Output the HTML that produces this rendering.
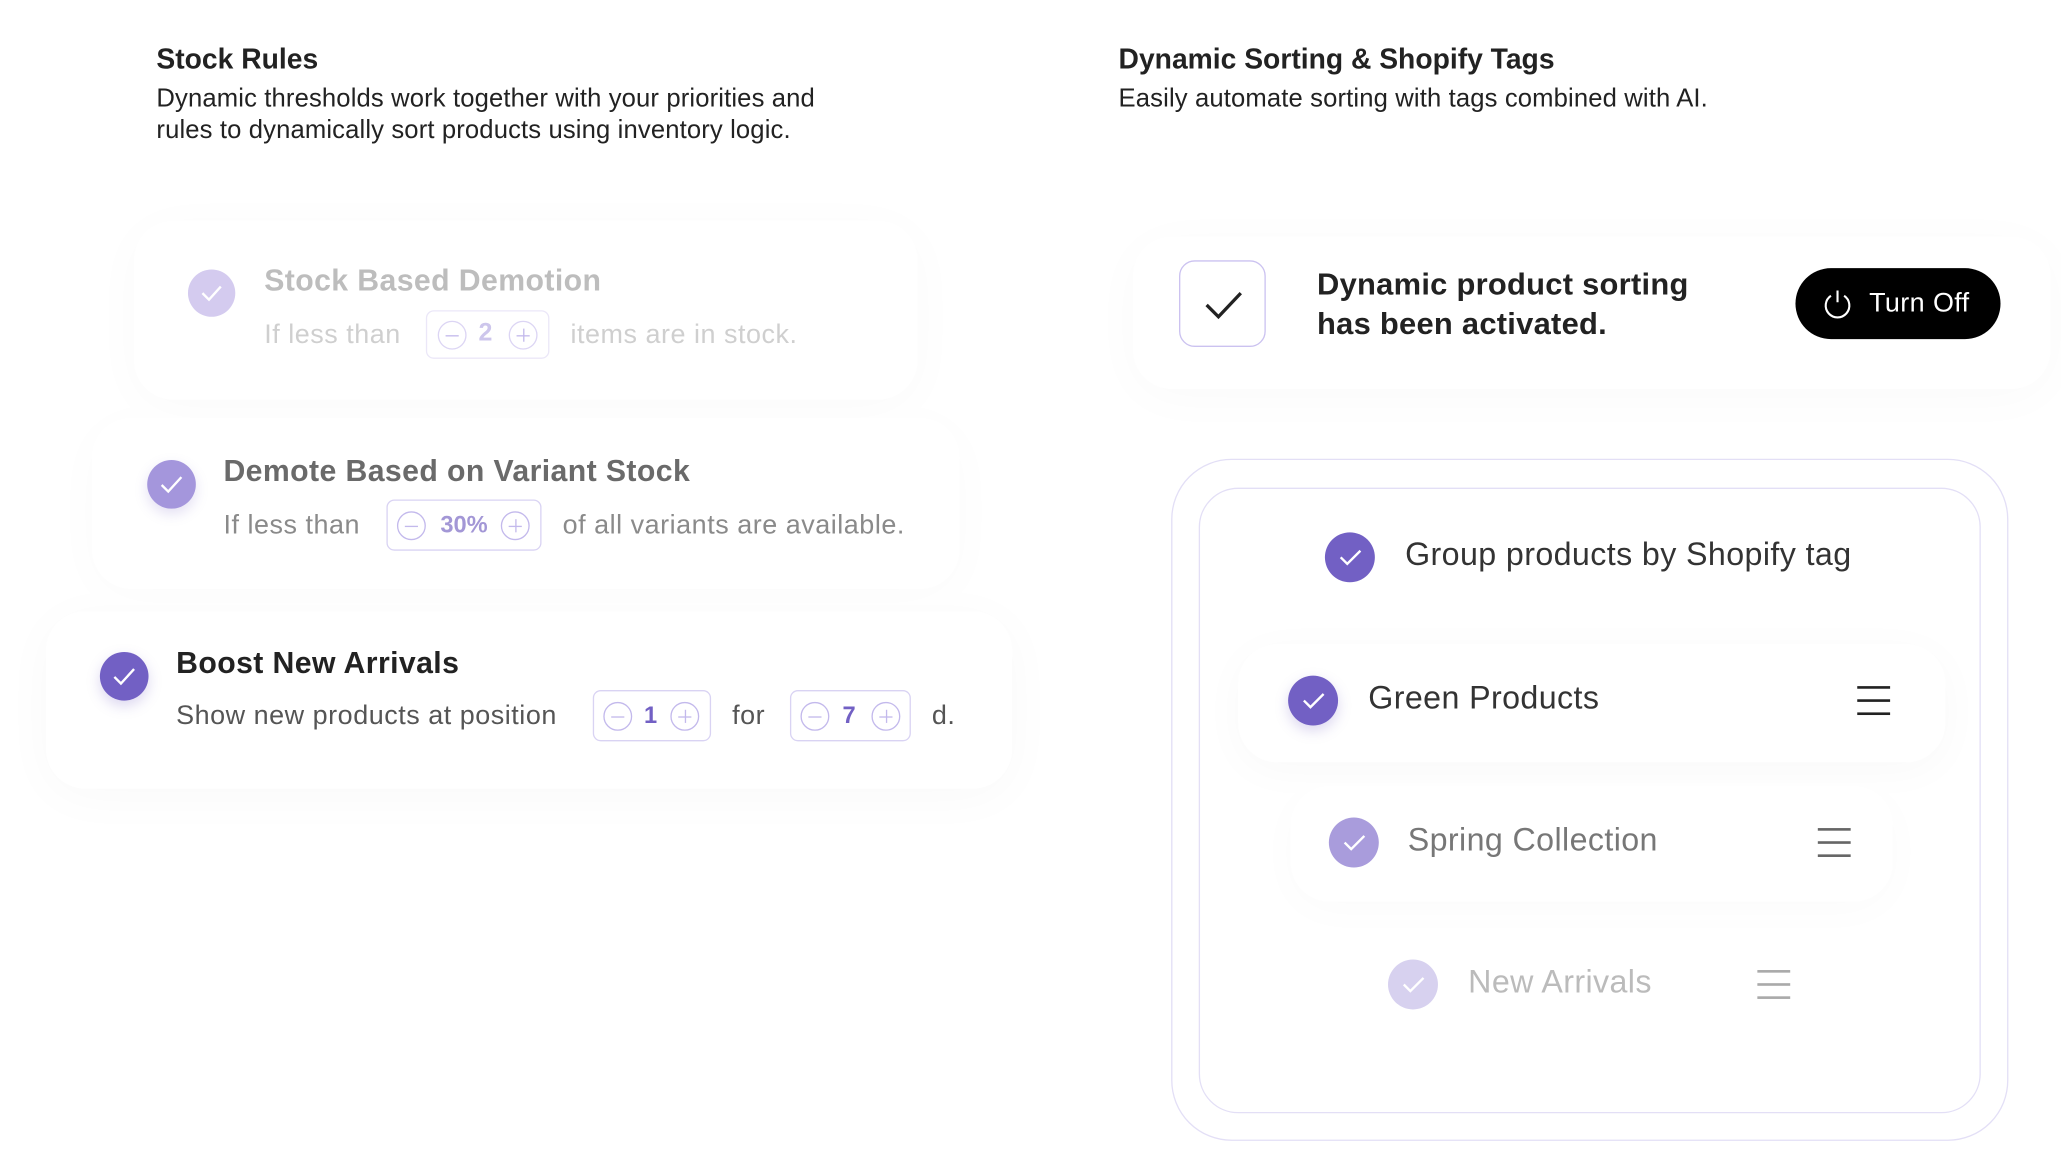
<!DOCTYPE html>
<html><head><meta charset="utf-8"><style>
html,body{margin:0;padding:0;background:#fff;}
body{width:2061px;height:1154px;overflow:hidden;position:relative;font-family:"Liberation Sans",sans-serif;}
#s{position:absolute;left:0;top:0;width:1568px;height:878px;transform:scale(1.3144);transform-origin:0 0;}
.a{position:absolute;white-space:nowrap;}
.card{position:absolute;border-radius:30px;background:#fff;}
.chk{position:absolute;border-radius:50%;}
.chk svg{position:absolute;left:0;top:0;}
.box{position:absolute;border:1.5px solid #d9d3f3;border-radius:6px;box-sizing:border-box;}
.pm{position:absolute;border-radius:50%;border:1.3px solid #c3b9ec;box-sizing:border-box;width:22px;height:22px;}
.pm:before{content:"";position:absolute;left:5px;right:5px;top:9.5px;height:1.3px;background:#c3b9ec;}
.pl:after{content:"";position:absolute;top:5px;bottom:5px;left:9.5px;width:1.3px;background:#c3b9ec;}
.hb{position:absolute;width:25px;height:22px;}
.hb i{position:absolute;left:0;right:0;height:1.6px;}
.t{font-size:20.5px;letter-spacing:0.4px;}
.h{font-size:23px;font-weight:bold;letter-spacing:0.3px;}
</style></head><body><div id="s">

<div class="a" style="left:119px;top:33px;font-size:21.5px;font-weight:bold;color:#222;">Stock Rules</div>
<div class="a" style="left:119px;top:63px;font-size:19.5px;line-height:24px;color:#222;letter-spacing:0.1px;">Dynamic thresholds work together with your priorities and<br>rules to dynamically sort products using inventory logic.</div>
<div class="a" style="left:851px;top:33px;font-size:21.5px;font-weight:bold;color:#222;">Dynamic Sorting &amp; Shopify Tags</div>
<div class="a" style="left:851px;top:63px;font-size:19.5px;line-height:24px;color:#222;letter-spacing:0.1px;">Easily automate sorting with tags combined with AI.</div>

<!-- card 1 -->
<div class="card" style="left:102px;top:168px;width:596px;height:136px;box-shadow:0 6px 40px rgba(0,0,0,0.022);"></div>
<div class="chk" style="left:143px;top:205px;width:36px;height:36px;background:#d4cbef;"><svg width="36" height="36"><path d="M11 18 L16 23 L25 13" stroke="#fff" stroke-width="1.8" fill="none"/></svg></div>
<div class="a h" style="left:201px;top:200px;color:#bdbdbd;">Stock Based Demotion</div>
<div class="a t" style="left:201px;top:243px;color:#cfcfcf;">If less than</div>
<div class="box" style="left:324px;top:236px;width:94px;height:37px;border-color:#ebe7f8;"></div>
<div class="pm" style="left:333px;top:244px;border-color:#dcd5f4;"></div>
<div class="a" style="left:364px;top:243px;font-size:19px;font-weight:bold;color:#cdc6ec;">2</div>
<div class="pm pl" style="left:387px;top:244px;border-color:#dcd5f4;"></div>
<div class="a t" style="left:434px;top:243px;color:#cfcfcf;">items are in stock.</div>

<!-- card 2 -->
<div class="card" style="left:70px;top:318px;width:660px;height:130px;box-shadow:0 6px 40px rgba(0,0,0,0.02);"></div>
<div class="chk" style="left:112px;top:350px;width:37px;height:37px;background:#a496dc;box-shadow:0 4px 10px rgba(114,96,196,0.2);"><svg width="37" height="37"><path d="M11 19 L16 24 L26 13" stroke="#fff" stroke-width="1.8" fill="none"/></svg></div>
<div class="a h" style="left:170px;top:345px;color:#6a6a6a;">Demote Based on Variant Stock</div>
<div class="a t" style="left:170px;top:388px;color:#8a8a8a;">If less than</div>
<div class="box" style="left:294px;top:380px;width:118px;height:39px;"></div>
<div class="pm" style="left:302px;top:389px;"></div>
<div class="a" style="left:335px;top:389px;font-size:18px;font-weight:bold;color:#a397d6;">30%</div>
<div class="pm pl" style="left:381px;top:389px;"></div>
<div class="a t" style="left:428px;top:388px;color:#8a8a8a;">of all variants are available.</div>

<!-- card 3 -->
<div class="card" style="left:35px;top:465px;width:735px;height:135px;box-shadow:0 6px 40px rgba(0,0,0,0.028);"></div>
<div class="chk" style="left:76px;top:496px;width:37px;height:37px;background:#7260c4;box-shadow:0 4px 10px rgba(114,96,196,0.25);"><svg width="37" height="37"><path d="M11 19 L16 24 L26 13" stroke="#fff" stroke-width="1.8" fill="none"/></svg></div>
<div class="a h" style="left:134px;top:491px;color:#222;">Boost New Arrivals</div>
<div class="a t" style="left:134px;top:533px;color:#555;">Show new products at position</div>
<div class="box" style="left:451px;top:525px;width:90px;height:39px;"></div>
<div class="pm" style="left:459px;top:534px;"></div>
<div class="a" style="left:490px;top:534px;font-size:18px;font-weight:bold;color:#7260c4;">1</div>
<div class="pm pl" style="left:510px;top:534px;"></div>
<div class="a t" style="left:557px;top:533px;color:#555;">for</div>
<div class="box" style="left:601px;top:525px;width:92px;height:39px;"></div>
<div class="pm" style="left:609px;top:534px;"></div>
<div class="a" style="left:641px;top:534px;font-size:18px;font-weight:bold;color:#7260c4;">7</div>
<div class="pm pl" style="left:663px;top:534px;"></div>
<div class="a t" style="left:709px;top:533px;color:#555;">d.</div>

<!-- right top card -->
<div class="card" style="left:862px;top:180px;width:698px;height:116px;box-shadow:0 6px 40px rgba(0,0,0,0.022);"></div>
<div class="a" style="left:897px;top:198px;width:66px;height:66px;box-sizing:border-box;border:1.5px solid #cbc2f0;border-radius:12px;background:#fff;"><svg width="64" height="64"><path d="M20 33 L29 42 L46 24" stroke="#222" stroke-width="2.5" fill="none"/></svg></div>
<div class="a" style="left:1002px;top:201px;font-size:23.5px;line-height:30px;font-weight:bold;color:#222;letter-spacing:0.2px;">Dynamic product sorting<br>has been activated.</div>
<div class="a" style="left:1366px;top:204px;width:156px;height:54px;border-radius:27px;background:#000;"></div>
<svg class="a" style="left:1385px;top:218px;" width="26" height="26"><path d="M8 7 A9 9 0 1 0 18 7" stroke="#fff" stroke-width="1.6" fill="none"/><line x1="13" y1="3" x2="13" y2="12" stroke="#fff" stroke-width="1.6"/></svg>
<div class="a" style="left:1422px;top:219px;font-size:20.5px;color:#fff;letter-spacing:0.3px;">Turn Off</div>

<!-- right box -->
<div class="a" style="left:891px;top:349px;width:637px;height:519px;box-sizing:border-box;border:1.5px solid #e3dff6;border-radius:46px;"></div>
<div class="a" style="left:912px;top:371px;width:595px;height:476px;box-sizing:border-box;border:1.5px solid #e3dff6;border-radius:30px;"></div>

<div class="chk" style="left:1008px;top:405px;width:38px;height:38px;background:#7260c4;"><svg width="38" height="38"><path d="M12 19 L17 24 L27 14" stroke="#fff" stroke-width="1.8" fill="none"/></svg></div>
<div class="a" style="left:1069px;top:409px;font-size:24.5px;color:#333;letter-spacing:0.3px;">Group products by Shopify tag</div>

<div class="card" style="left:942px;top:490px;width:538px;height:90px;box-shadow:0 6px 34px rgba(0,0,0,0.028);"></div>
<div class="chk" style="left:980px;top:514px;width:38px;height:38px;background:#7260c4;box-shadow:0 4px 10px rgba(114,96,196,0.25);"><svg width="38" height="38"><path d="M12 19 L17 24 L27 14" stroke="#fff" stroke-width="1.8" fill="none"/></svg></div>
<div class="a" style="left:1041px;top:518px;font-size:24.5px;color:#333;letter-spacing:0.3px;">Green Products</div>
<div class="hb" style="left:1413px;top:522px;"><i style="top:0;background:#222"></i><i style="top:10px;background:#222"></i><i style="top:20px;background:#222"></i></div>

<div class="card" style="left:982px;top:598px;width:458px;height:88px;box-shadow:0 6px 34px rgba(0,0,0,0.02);"></div>
<div class="chk" style="left:1011px;top:622px;width:38px;height:38px;background:#a99cdc;"><svg width="38" height="38"><path d="M12 19 L17 24 L27 14" stroke="#fff" stroke-width="1.8" fill="none"/></svg></div>
<div class="a" style="left:1071px;top:626px;font-size:24.5px;color:#777;letter-spacing:0.3px;">Spring Collection</div>
<div class="hb" style="left:1383px;top:630px;"><i style="top:0;background:#666"></i><i style="top:10px;background:#666"></i><i style="top:20px;background:#666"></i></div>

<div class="chk" style="left:1056px;top:730px;width:38px;height:38px;background:#d7d1ef;"><svg width="38" height="38"><path d="M12 19 L17 24 L27 14" stroke="#fff" stroke-width="1.8" fill="none"/></svg></div>
<div class="a" style="left:1117px;top:734px;font-size:24.5px;color:#bbb;letter-spacing:0.3px;">New Arrivals</div>
<div class="hb" style="left:1337px;top:738px;"><i style="top:0;background:#aaa"></i><i style="top:10px;background:#aaa"></i><i style="top:20px;background:#aaa"></i></div>

</div></body></html>
